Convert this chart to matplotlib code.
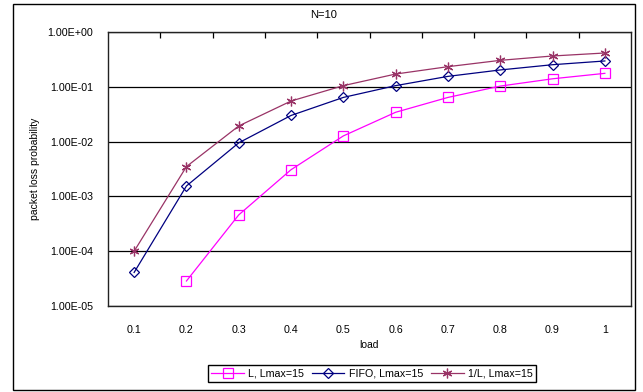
import matplotlib
matplotlib.use("Agg")
import matplotlib.pyplot as plt
import numpy as np
from matplotlib.patches import Rectangle
from matplotlib.ticker import FixedLocator, FuncFormatter

plt.rcParams["font.family"] = ["Liberation Sans", "DejaVu Sans"]

LOADS = ["0.1", "0.2", "0.3", "0.4", "0.5", "0.6", "0.7", "0.8", "0.9", "1"]
L_LMAX15 = [np.nan, 2.86e-5, 4.6e-4, 3.07e-3, 0.0127, 0.0343, 0.064, 0.103, 0.140, 0.176]
FIFO_LMAX15 = [4.1e-5, 1.55e-3, 9.5e-3, 0.030, 0.064, 0.105, 0.155, 0.203, 0.253, 0.296]
INV_L_LMAX15 = [1.0e-4, 3.5e-3, 0.0193, 0.055, 0.105, 0.171, 0.233, 0.304, 0.365, 0.414]
SERIES_NAMES = ["L, Lmax=15", "FIFO, Lmax=15", "1/L, Lmax=15"]

W, H = 643, 392


def main():
    fig = plt.figure(figsize=(W / 100, H / 100), dpi=100)
    ax = fig.add_axes([108 / W, 1 - 306 / H, 523 / W, 274 / H])

    x = np.arange(len(LOADS))
    ax.plot(x, L_LMAX15, color="#FF00FF", lw=0.9, marker="s", ms=6.5,
            mfc="none", mec="#FF00FF", mew=0.9, label=SERIES_NAMES[0])
    ax.plot(x, FIFO_LMAX15, color="#000080", lw=0.9, marker="D", ms=5.5,
            mfc="none", mec="#000080", mew=0.9, label=SERIES_NAMES[1])
    ax.plot(x, INV_L_LMAX15, color="#993366", lw=0.9, marker=(6, 2, 0), ms=7,
            mec="#993366", mew=0.9, label=SERIES_NAMES[2])

    ax.set_yscale("log")
    ax.set_ylim(1e-5, 1)
    ax.set_xlim(-0.5, len(LOADS) - 0.5)
    ax.yaxis.set_major_locator(FixedLocator([1e-5, 1e-4, 1e-3, 1e-2, 1e-1, 1]))
    ax.yaxis.set_minor_locator(FixedLocator([]))
    ax.yaxis.set_major_formatter(FuncFormatter(lambda v, p: f"{v:.2E}"))
    ax.yaxis.grid(True, color="black", lw=0.9)
    ax.tick_params(axis="y", length=0, pad=11, labelsize=7.7)

    ax.set_xticks(x)
    ax.set_xticklabels(LOADS)
    ax.set_xticks(np.arange(0.5, len(LOADS) - 1, 1), minor=True)
    ax.tick_params(axis="x", which="major", length=0, pad=14, labelsize=7.7)
    ax.tick_params(axis="x", which="minor", bottom=False, top=True,
                   direction="in", length=4, width=0.9)

    for spine in ax.spines.values():
        spine.set_color("#222222")
        spine.set_linewidth(1)

    ax.set_xlabel("load", fontsize=7.5, labelpad=3)
    ax.set_ylabel("packet loss probability", fontsize=7.5, labelpad=5)

    fig.text(324 / W, 1 - 15 / H, "N=10", ha="center", va="center", fontsize=8)

    fig.legend(loc="center", bbox_to_anchor=(372 / W, 1 - 373.5 / H), ncol=3,
               fontsize=7.7, frameon=True, fancybox=False, edgecolor="black",
               framealpha=1, handlelength=3, handletextpad=0.4,
               columnspacing=0.8, borderpad=0.35)

    fig.patches.append(Rectangle((13 / W, 1 - 390 / H), 622 / W, 386 / H,
                                 transform=fig.transFigure, fill=False,
                                 edgecolor="black", lw=1))

    fig.savefig("out.png", dpi=100)
    plt.close(fig)


if __name__ == "__main__":
    main()
